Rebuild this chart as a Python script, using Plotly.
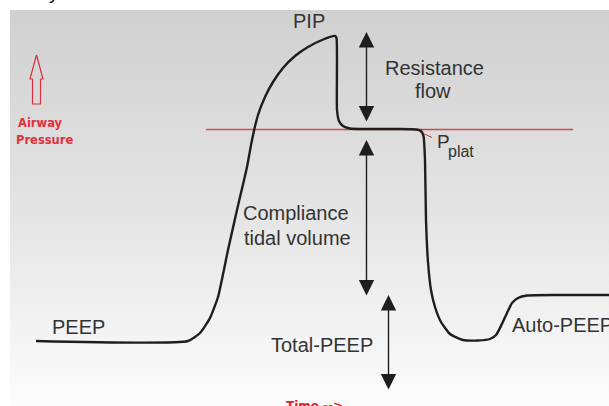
import plotly.graph_objects as go

# ---- data (horizontal = time, vertical = screen-pressure position, px scale) ----
time_pts = [36, 188, 200, 210, 218, 228, 237, 247, 252, 258, 265, 273, 283, 295, 308, 322, 335,
            336.5, 337, 339, 343, 350, 360, 380, 400, 416, 421, 423.5, 425, 426, 428, 431, 435,
            441, 450, 463, 478, 490, 496, 501, 507, 512, 518, 527, 560, 609]
pressure_pts = [341, 341, 333, 318, 297, 250, 210, 167, 140, 115, 97, 82, 68, 56, 47, 40, 36,
                38, 110, 121, 126, 128.5, 129, 129, 129, 129.5, 131, 136, 160, 220, 262, 290, 307,
                322, 334, 340, 340.5, 339, 335, 326, 313, 303, 298, 295.5, 295, 295]

plateau_level = 129.5
plateau_span = [206, 573]
pplat_pointer_x = [420, 432]
pplat_pointer_y = [132, 137.5]

# double-headed arrows: x, y_top, y_bottom
arrow_x = [366.5, 366.5, 388.5]
arrow_top = [32, 140, 295]
arrow_bottom = [123, 297, 391]

# hollow red "Airway Pressure" arrow outline
axis_arrow_x = [36.5, 43, 40.5, 40.5, 32.5, 32.5, 30, 36.5]
axis_arrow_y = [55, 79, 79, 104, 104, 79, 79, 55]

labels = ["PIP", "Resistance", "flow", "Compliance", "tidal volume", "PEEP", "Total-PEEP", "Auto-PEEP"]
label_x = [309, 434, 433, 296, 297, 78, 322, 510]
label_y = [21, 68, 91, 213, 238, 327, 345, 325]
label_anchor = ["center", "center", "center", "center", "center", "center", "center", "left"]

W, H = 609, 406
fig = go.Figure()

# gradient slide background
fig.add_trace(go.Scatter(
    x=[10, W, W, 10, 10], y=[10, 10, H, H, 10], mode="lines", fill="toself",
    line=dict(width=0),
    fillgradient=dict(type="vertical", start=10, stop=H,
                      colorscale=[[0, "#d0d0d0"], [0.5, "#e4e4e4"], [1, "#fcfcfc"]]),
    hoverinfo="skip"))

# plateau red line
fig.add_trace(go.Scatter(x=plateau_span, y=[plateau_level, plateau_level], mode="lines",
                         line=dict(color="#d64848", width=1.3), hoverinfo="skip"))
fig.add_trace(go.Scatter(x=pplat_pointer_x, y=pplat_pointer_y, mode="lines",
                         line=dict(color="#c04040", width=1), hoverinfo="skip"))

# pressure curve
fig.add_trace(go.Scatter(x=time_pts, y=pressure_pts, mode="lines",
                         line=dict(color="#1e1e1e", width=2.4, shape="spline", smoothing=0.5),
                         hoverinfo="skip"))

# red hollow axis arrow
fig.add_trace(go.Scatter(x=axis_arrow_x, y=axis_arrow_y, mode="lines",
                         line=dict(color="#d83040", width=1.2), hoverinfo="skip"))

anns = []
for ax_, y0, y1 in zip(arrow_x, arrow_top, arrow_bottom):
    anns.append(dict(x=ax_, y=y0, ax=ax_, ay=y1, xref="x", yref="y", axref="x", ayref="y",
                     text="", showarrow=True, arrowhead=2, arrowside="end+start",
                     arrowsize=2.2, arrowwidth=1.4, arrowcolor="#1e1e1e", standoff=0,
                     startstandoff=0))

for t, x, y, a in zip(labels, label_x, label_y, label_anchor):
    anns.append(dict(x=x, y=y, xref="x", yref="y", text=t, showarrow=False,
                     xanchor=a, yanchor="middle",
                     font=dict(family="Liberation Sans, Arial", size=20, color="#333333")))

# P_plat
anns.append(dict(x=435, y=141, xref="x", yref="y", text="P", showarrow=False, xanchor="left",
                 yanchor="middle", font=dict(family="Liberation Sans, Arial", size=19, color="#333333")))
anns.append(dict(x=446, y=151, xref="x", yref="y", text="plat", showarrow=False, xanchor="left",
                 yanchor="middle", font=dict(family="Liberation Sans, Arial", size=16, color="#333333")))

# red labels
for t, x, y in [("Airway", 40, 123), ("Pressure", 44, 140)]:
    anns.append(dict(x=x, y=y, xref="x", yref="y", text="<b>" + t + "</b>", showarrow=False,
                     xanchor="center", yanchor="middle",
                     font=dict(family="DejaVu Sans", size=11.5, color="#e0303a")))
anns.append(dict(x=314, y=397, xref="x", yref="y", text="<b>Time --></b>", showarrow=False,
                 xanchor="center", yanchor="top",
                 font=dict(family="DejaVu Sans", size=12, color="#e0202a")))

# clipped title descender at top (paper-referenced so it may sit above the plot)
anns.append(dict(x=54 / W, y=1 + 8 / H, xref="paper", yref="paper", text="y", showarrow=False,
                 xanchor="center", yanchor="middle",
                 font=dict(family="Liberation Sans, Arial", size=20, color="#111111")))

fig.update_layout(
    width=W, height=H, margin=dict(l=0, r=0, t=0, b=0),
    paper_bgcolor="white", plot_bgcolor="white", showlegend=False,
    xaxis=dict(range=[0, W], visible=False, fixedrange=True),
    yaxis=dict(range=[H, 0], visible=False, fixedrange=True),
    annotations=anns,
)

fig.write_html("out.html", config={"displayModeBar": False},
               post_script="document.body.style.margin='0';document.body.style.overflow='hidden';")
